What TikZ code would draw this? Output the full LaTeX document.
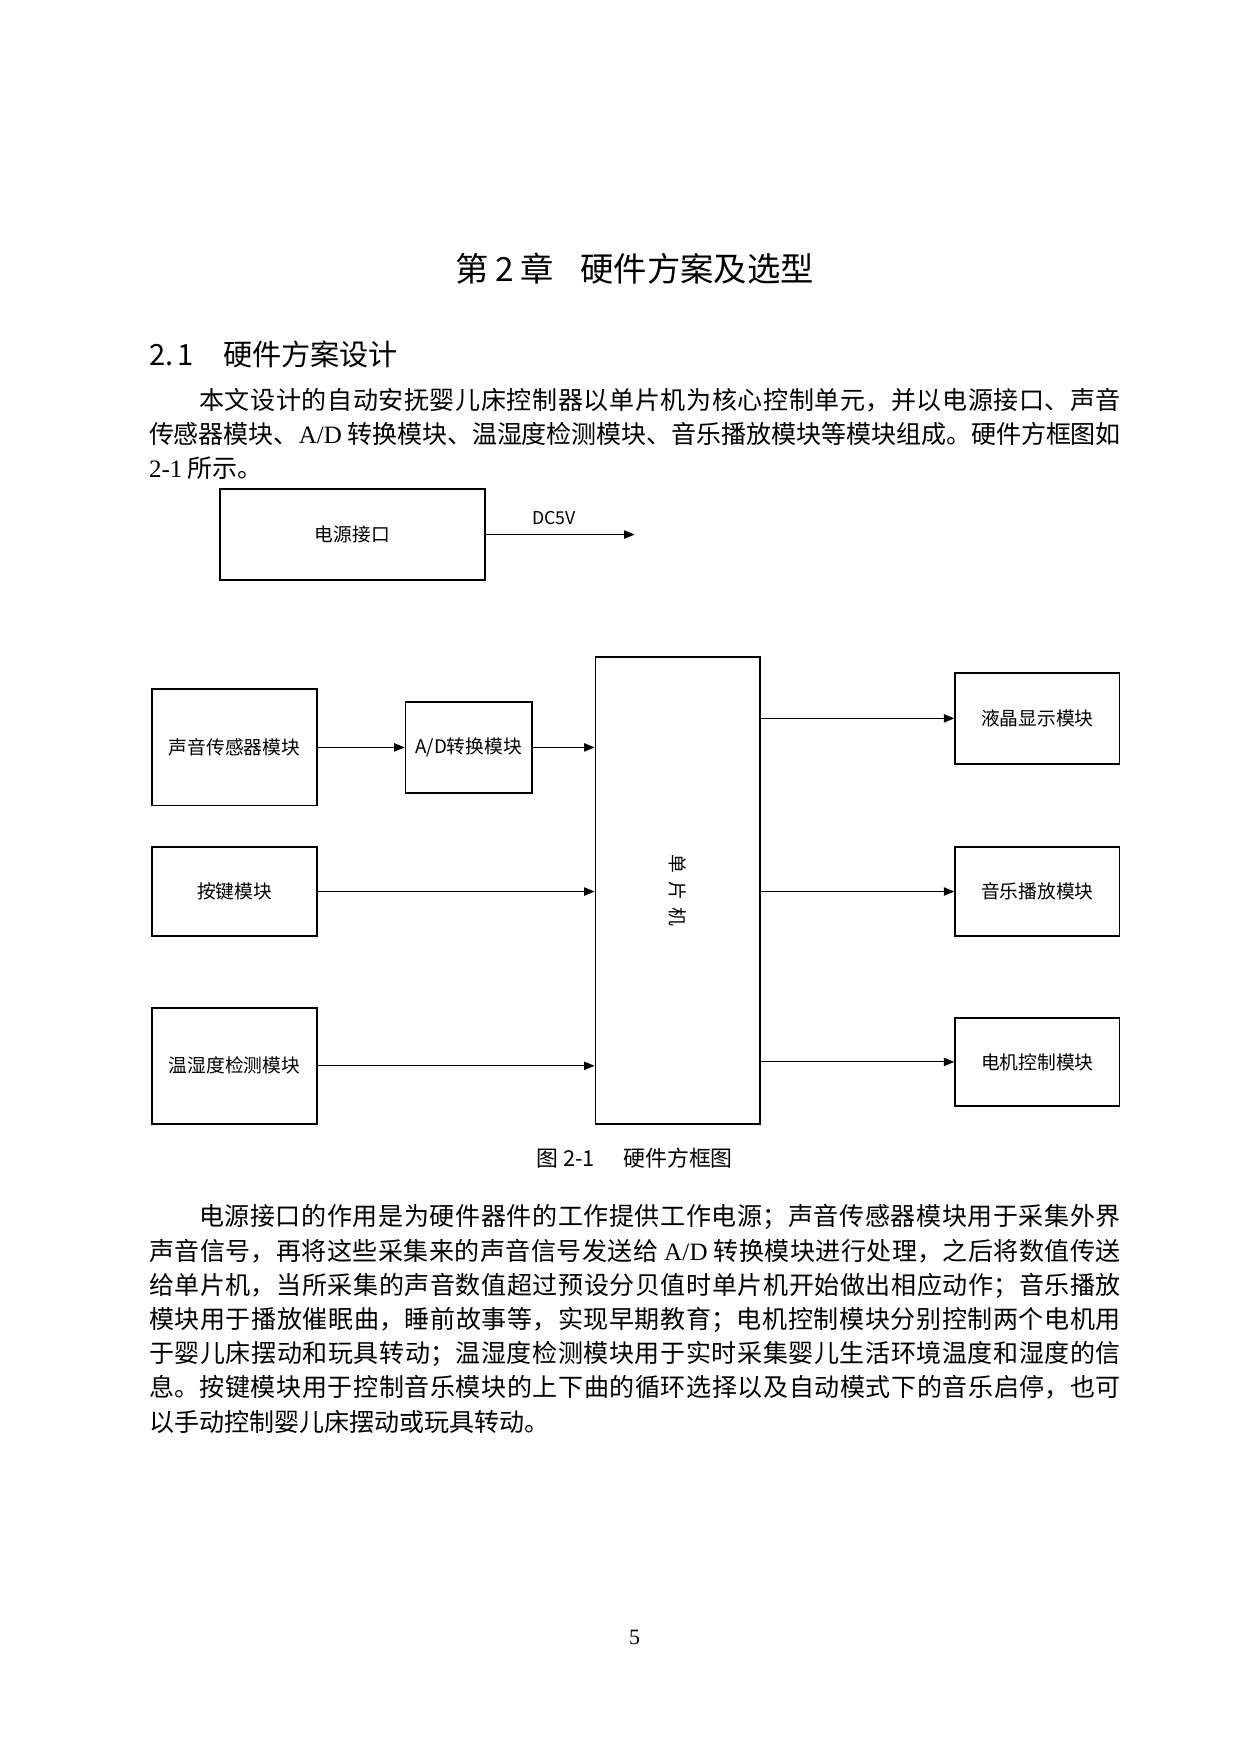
\documentclass[tikz,border=0pt]{standalone}
\usepackage{fontspec}
\setmainfont{Liberation Serif}
\newfontfamily\cjk{Noto Sans CJK SC}
\usepackage{tikz}
\usetikzlibrary{arrows.meta}
\usetikzlibrary{positioning}
\XeTeXlinebreaklocale "zh"
\XeTeXlinebreakskip=0pt plus 3pt minus 0.3pt
\newcommand\lat[1]{{\rmfamily #1}}

\begin{document}
\begin{tikzpicture}[
    x=0.536pt, y=-0.536pt,
    modulo/.style={draw, line width=0.9pt, inner sep=0pt, font=\cjk\fontsize{9}{11}\selectfont},
    caja/.style 2 args={minimum width=#1*0.536pt, minimum height=#2*0.536pt},
    flecha/.style={line width=0.5pt, -{Triangle[length=5pt,width=4pt]}},
    parrafo/.style={anchor=north west, inner sep=0pt, text width=466.3pt, align=justify, font=\cjk\fontsize{12}{16.4}\selectfont}
]
\useasboundingbox (0,0) rectangle (1110,1570);

% Texto de la página
\node[font=\cjk\fontsize{16}{20}\selectfont] (titulo) at (568,240) {第\hspace{0.2em}2\hspace{0.2em}章\hspace{0.8em}硬件方案及选型};
\node[anchor=west, inner sep=0pt, font=\cjk\fontsize{14}{18}\selectfont] (seccion) at (133,317) {2.\hspace{0.15em}1\hspace{1em}硬件方案设计};
\node[parrafo] (parrafo1) at (133,347) {\noindent\hspace*{24pt}本文设计的自动安抚婴儿床控制器以单片机为核心控制单元，并以电源接口、声音\linebreak
传感器模块、\lat{A/D} 转换模块、温湿度检测模块、音乐播放模块等模块组成。硬件方框图如\linebreak
\lat{2-1} 所示。};

% Módulos (posición aproximada)
\node[modulo, caja={237}{81}] (fuente) at (315.5,478.5) {电源接口};
\coordinate (salida) at (568,478.5);
\node[modulo, caja={147}{418}] (mcu) at (606.5,797) {};
\node[rotate=-90, font=\cjk\fontsize{9}{11}\selectfont] (mcutexto) at (mcu.center) {单\hspace{3.5pt}片\hspace{3.5pt}机};
\node[modulo, caja={148}{104}] (sonido) at (210,669) {声音传感器模块};
\node[modulo, caja={113}{82}] (ad) at (419.5,669) {A/D转换模块};
\node[modulo, caja={148}{80}] (teclas) at (210,798) {按键模块};
\node[modulo, caja={148}{104}] (temp) at (210,954) {温湿度检测模块};
\node[modulo, caja={147}{82}] (lcd) at (928.5,643) {液晶显示模块};
\node[modulo, caja={147}{80}] (musica) at (928.5,798) {音乐播放模块};
\node[modulo, caja={147}{79}] (motor) at (928.5,950.5) {电机控制模块};

% Flechas
\draw[flecha] (fuente) -- (salida) node[midway, above=1pt, xshift=-3pt, font=\cjk\fontsize{8.5}{10}\selectfont] (dc) {DC5V};
\draw[flecha] (sonido) -- (ad);
\draw[flecha] (ad) -- (ad -| mcu.west);
\draw[flecha] (teclas) -- (teclas -| mcu.west);
\draw[flecha] (temp) -- (temp -| mcu.west);
\draw[flecha] (lcd -| mcu.east) -- (lcd);
\draw[flecha] (musica -| mcu.east) -- (musica);
\draw[flecha] (motor -| mcu.east) -- (motor);

% Pie de figura y texto
\node[font=\cjk\fontsize{10.5}{13}\selectfont] (pie) at (568,1037) {图 2-1\hspace{1.3em}硬件方框图};
\node[parrafo] (parrafo2) at (133,1078) {\noindent\hspace*{24pt}电源接口的作用是为硬件器件的工作提供工作电源；声音传感器模块用于采集外界\linebreak
声音信号，再将这些采集来的声音信号发送给 \lat{A/D} 转换模块进行处理，之后将数值传送\linebreak
给单片机，当所采集的声音数值超过预设分贝值时单片机开始做出相应动作；音乐播放\linebreak
模块用于播放催眠曲，睡前故事等，实现早期教育；电机控制模块分别控制两个电机用\linebreak
于婴儿床摆动和玩具转动；温湿度检测模块用于实时采集婴儿生活环境温度和湿度的信\linebreak
息。按键模块用于控制音乐模块的上下曲的循环选择以及自动模式下的音乐启停，也可\linebreak
以手动控制婴儿床摆动或玩具转动。};
\node[font=\fontsize{10.5}{13}\selectfont] (pagina) at (568,1466) {5};

\end{tikzpicture}
\end{document}
